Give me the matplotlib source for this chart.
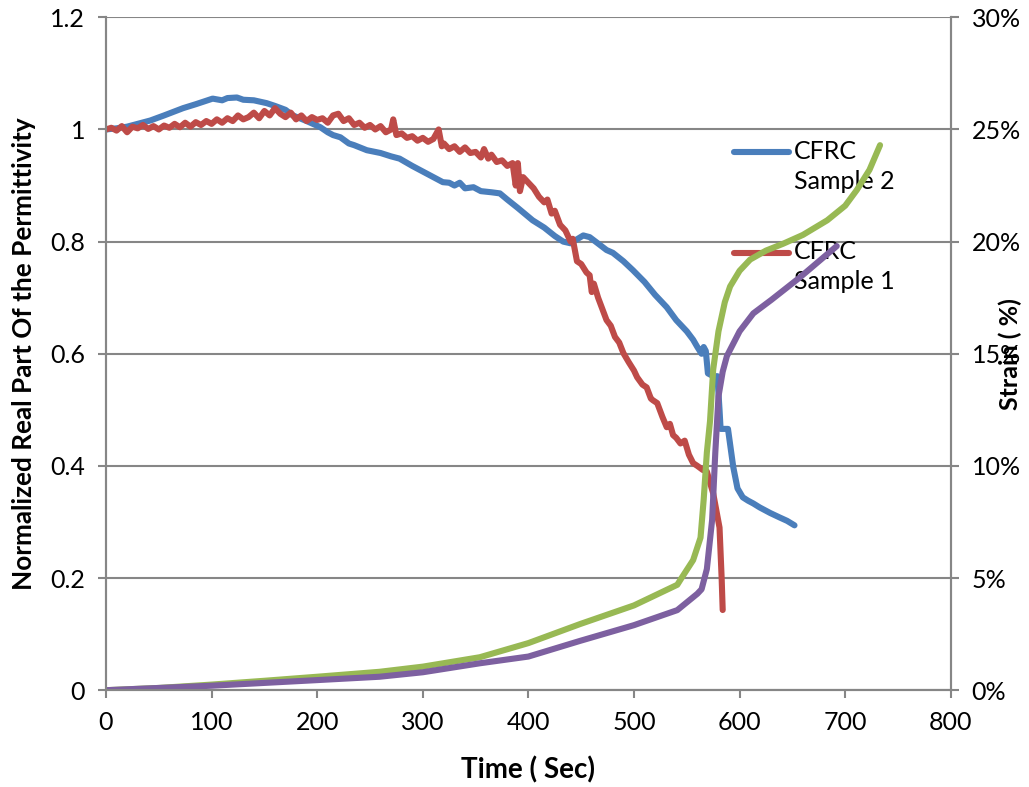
import numpy as np
import matplotlib
matplotlib.use('Agg')
from matplotlib import pyplot as plt
from matplotlib.ticker import FuncFormatter, MultipleLocator

plt.rcParams['font.family'] = ['Lato', 'DejaVu Sans']

# CFRC Sample 2 (blue) - normalized real part of permittivity
t_s2 = [0, 10, 20, 30, 42, 55, 73, 85, 101, 110, 115, 124, 130, 140, 152, 160, 170, 177, 190,
        203, 210, 215, 222, 230, 235, 247, 260, 270, 278, 290, 300, 310, 319, 325, 330, 335,
        340, 348, 355, 365, 373, 380, 390, 404, 415, 425, 433, 440, 445, 452, 458, 465, 474,
        480, 490, 499, 510, 520, 531, 540, 550, 556, 560, 564, 566, 568, 570, 575, 579, 581,
        582, 589, 594, 598, 603, 608, 613, 619, 629, 638, 645, 652]
e_s2 = [1.000, 1.002, 1.005, 1.010, 1.016, 1.025, 1.038, 1.045, 1.055, 1.052, 1.056, 1.057,
        1.053, 1.052, 1.047, 1.042, 1.035, 1.025, 1.015, 1.004, 0.995, 0.990, 0.986, 0.975,
        0.972, 0.963, 0.958, 0.952, 0.948, 0.935, 0.925, 0.915, 0.906, 0.905, 0.900, 0.905,
        0.895, 0.897, 0.890, 0.888, 0.886, 0.875, 0.860, 0.838, 0.825, 0.810, 0.800, 0.797,
        0.803, 0.811, 0.808, 0.798, 0.785, 0.780, 0.765, 0.749, 0.728, 0.705, 0.683, 0.660,
        0.640, 0.625, 0.612, 0.600, 0.612, 0.605, 0.565, 0.560, 0.560, 0.500, 0.466, 0.466,
        0.398, 0.360, 0.344, 0.338, 0.333, 0.326, 0.316, 0.308, 0.302, 0.294]

# CFRC Sample 1 (red)
t_s1 = [0, 5, 10, 15, 20, 25, 30, 35, 40, 45, 50, 55, 60, 65, 70, 75, 80, 85, 90, 95, 100,
        105, 110, 115, 120, 125, 130, 135, 140, 145, 150, 155, 160, 165, 170, 175, 180, 185,
        190, 195, 200, 205, 210, 215, 220, 225, 230, 235, 240, 245, 250, 255, 260, 265, 270,
        272, 275, 280, 285, 290, 295, 300, 305, 310, 315, 318, 320, 325, 330, 335, 340, 345,
        350, 355, 358, 362, 365, 370, 375, 380, 385, 388, 390, 392, 395, 400, 405, 410, 415,
        418, 422, 425, 430, 435, 440, 442, 446, 450, 455, 458, 460, 462, 466, 470, 474, 478,
        482, 486, 490, 495, 500, 503, 508, 512, 516, 518, 522, 527, 531, 534, 537, 540, 544,
        548, 552, 556, 560, 565, 569, 572, 575, 578, 581, 583, 584]
e_s1 = [1.000, 1.003, 0.998, 1.006, 0.995, 1.005, 1.002, 1.008, 1.001, 1.006, 1.000, 1.007,
        1.003, 1.010, 1.004, 1.012, 1.005, 1.013, 1.008, 1.015, 1.010, 1.018, 1.012, 1.020,
        1.015, 1.025, 1.018, 1.022, 1.030, 1.020, 1.033, 1.025, 1.038, 1.028, 1.022, 1.030,
        1.018, 1.025, 1.015, 1.022, 1.017, 1.020, 1.012, 1.025, 1.028, 1.015, 1.020, 1.008,
        1.012, 1.003, 1.008, 1.000, 1.006, 0.995, 1.000, 1.018, 0.990, 0.993, 0.985, 0.988,
        0.980, 0.985, 0.978, 0.983, 1.000, 0.970, 0.975, 0.965, 0.970, 0.960, 0.968, 0.958,
        0.960, 0.950, 0.965, 0.948, 0.955, 0.942, 0.945, 0.935, 0.940, 0.900, 0.940, 0.890,
        0.915, 0.905, 0.895, 0.880, 0.870, 0.875, 0.850, 0.855, 0.830, 0.820, 0.800, 0.805,
        0.765, 0.760, 0.745, 0.740, 0.710, 0.725, 0.700, 0.680, 0.660, 0.650, 0.630, 0.620,
        0.601, 0.585, 0.570, 0.558, 0.545, 0.540, 0.520, 0.517, 0.512, 0.487, 0.469, 0.475,
        0.455, 0.450, 0.440, 0.445, 0.420, 0.405, 0.400, 0.393, 0.390, 0.370, 0.351, 0.320,
        0.290, 0.200, 0.143]

# Strain (%) - green and purple
t_green = [0, 50, 100, 150, 200, 259, 300, 354, 400, 449, 500, 541, 545, 556, 563, 566, 569,
           572, 575, 580, 586, 591, 600, 610, 625, 641, 660, 683, 700, 711, 723, 733]
s_green = [0, 0.1, 0.25, 0.42, 0.6, 0.82, 1.05, 1.47, 2.1, 2.95, 3.78, 4.7, 5.0, 5.8, 6.8, 8.5,
           10.6, 12.0, 14.3, 16.0, 17.3, 18.0, 18.7, 19.2, 19.6, 19.9, 20.3, 20.95, 21.6, 22.3,
           23.2, 24.3]
t_purple = [0, 100, 200, 259, 300, 354, 400, 449, 500, 541, 560, 564, 569, 574, 577, 580, 584,
            588, 600, 613, 630, 657, 692]
s_purple = [0, 0.2, 0.45, 0.6, 0.8, 1.2, 1.5, 2.2, 2.9, 3.57, 4.3, 4.5, 5.4, 7.6, 10.6, 13.1,
            14.2, 14.9, 16.0, 16.8, 17.4, 18.4, 19.8]

blue = '#4A7EBB'
red = '#BE4B48'
green = '#98B954'
purple = '#7D60A0'
gray = '#868686'

fig = plt.figure(figsize=(10.29, 7.87), dpi=100)
ax = fig.add_axes([0.103, 0.123, 0.821, 0.855])
ax2 = ax.twinx()

lw = 4.4
ax.plot(t_s2, e_s2, color=blue, lw=lw, label='\nCFRC\nSample 2', solid_capstyle='round', zorder=3)
ax.plot(t_s1, e_s1, color=red, lw=lw, label='\nCFRC\nSample 1', solid_capstyle='round', zorder=3)
ax2.plot(t_green, s_green, color=green, lw=lw, solid_capstyle='round')
ax2.plot(t_purple, s_purple, color=purple, lw=lw, solid_capstyle='round')

ax.set_xlim(0, 800)
ax.set_ylim(0, 1.2)
ax2.set_ylim(0, 30)
ax.xaxis.set_major_locator(MultipleLocator(100))
ax.yaxis.set_major_locator(MultipleLocator(0.2))
ax2.yaxis.set_major_locator(MultipleLocator(5))
ax.yaxis.set_major_formatter(FuncFormatter(lambda v, p: '%g' % round(v, 1)))
ax2.yaxis.set_major_formatter(FuncFormatter(lambda v, p: '%d%%' % v))

ax.grid(True, axis='y', color=gray, lw=1.5)
ax.set_axisbelow(True)
for a in (ax, ax2):
    for s in a.spines.values():
        s.set_color(gray)
        s.set_linewidth(1.5)
    a.spines['top'].set_visible(False)
    a.tick_params(colors=gray, labelcolor='black', labelsize=18, length=6, width=1.5, pad=9)

ax.set_xlabel('Time ( Sec)', fontsize=20, fontweight='bold', labelpad=16)
ax.set_ylabel('Normalized Real Part Of the Permittivity', fontsize=18.8, fontweight='bold', labelpad=10)
ax2.set_ylabel('Strain ( %)', fontsize=18, fontweight='bold', rotation=90, labelpad=-16)

leg = ax.legend(loc='upper left', bbox_to_anchor=(0.717, 0.895), frameon=False, fontsize=18,
                handlelength=2.2, handletextpad=0.2, labelspacing=0.72)
for txt in leg.get_texts():
    txt.set_linespacing(1.35)

fig.savefig('out.png', dpi=100)
